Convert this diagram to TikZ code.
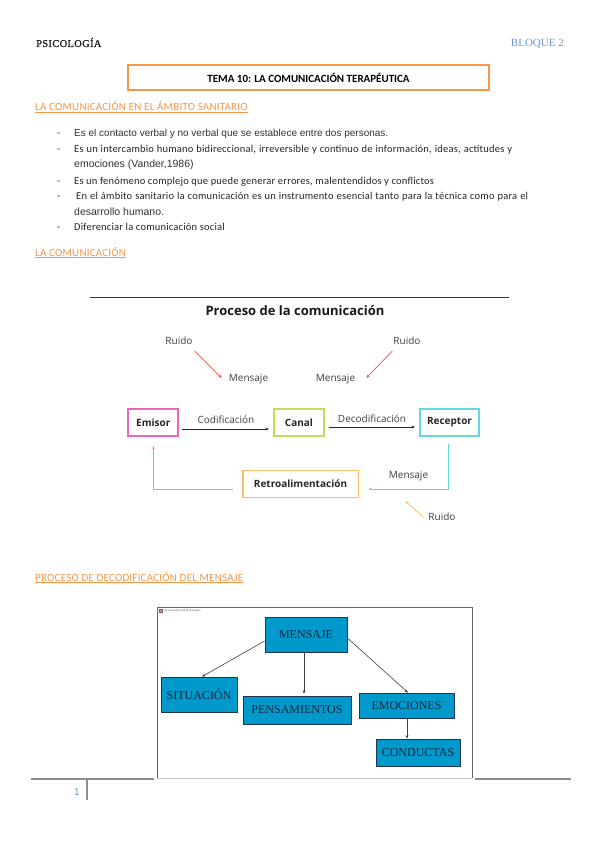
\documentclass[tikz,border=0pt]{standalone}
\usepackage{fontspec}
\setmainfont{Carlito}
\newfontfamily\serifF{Liberation Serif}
\newfontfamily\arialF{Liberation Sans}
\newfontfamily\openF{Open Sans}
\usetikzlibrary{arrows.meta}
\definecolor{orangeH}{HTML}{F79646}
\definecolor{blueB}{HTML}{6B95CF}
\definecolor{pinkD}{HTML}{EE66BB}
\definecolor{greenD}{HTML}{C6DB5E}
\definecolor{cyanD}{HTML}{62D9DF}
\definecolor{orangeD}{HTML}{FBBD69}
\definecolor{redD}{HTML}{E8524F}
\definecolor{ruidoO}{HTML}{FBC677}
\definecolor{txtD}{HTML}{404040}
\definecolor{boxBlue}{HTML}{0099CC}
\definecolor{boxLine}{HTML}{1F3550}
\definecolor{boxTxt}{HTML}{14243C}
\definecolor{footGray}{HTML}{8C8C8C}
\tikzset{
  txt/.style={inner sep=0pt, anchor=base west},
  bul/.style={txt, font=\fontsize{10.5}{12}\selectfont\addfontfeature{LetterSpace=2}, text=black!85},
  bula/.style={txt, font=\arialF\fontsize{10.5}{12}\selectfont, text=black!80},
  head/.style={txt, font=\fontsize{11}{13}\selectfont\addfontfeature{LetterSpace=2}, text=orangeH},
  dtxt/.style={inner sep=0pt, font=\openF\fontsize{10}{12}\selectfont, text=txtD},
  dbox/.style={draw=#1, line width=1.8pt, minimum height=27pt, inner sep=0pt, font=\openF\bfseries\fontsize{10}{12}\selectfont, text=black!85},
  darr/.style={-{Stealth[length=3.5pt,width=2.8pt]}, line width=0.7pt},
  bbox/.style={draw=boxLine, line width=0.8pt, fill=boxBlue, inner sep=0pt, font=\serifF\fontsize{12}{14}\selectfont, text=boxTxt},
  barr/.style={-{Stealth[length=3.5pt,width=3pt]}, line width=0.6pt, draw=black!75}
}
\begin{document}
\begin{tikzpicture}[x=1pt,y=-1pt]
\useasboundingbox (0,0) rectangle (599,848);
\fill[white] (0,0) rectangle (599,848);
% header
\node[txt, font=\serifF\fontsize{10.5}{13}\selectfont\addfontfeature{LetterSpace=3,FakeBold=0.6}, text=black!90] (psico) at (36,47) {PSICOLOGÍA};
\node[txt, font=\serifF\fontsize{11}{13}\selectfont, text=blueB, anchor=base east] (bloque) at (564,47) {BLOQUE 2};
\node[draw=orangeH, line width=2.2pt, minimum width=361pt, minimum height=25pt, inner sep=0pt, font=\bfseries\fontsize{11}{13}\selectfont] (title) at (308.5,77.5) {TEMA 10: LA COMUNICACIÓN TERAPÉUTICA};
% section 1
\node[head] (h1) at (35,111) {\underline{LA COMUNICACIÓN EN EL ÁMBITO SANITARIO}};
\foreach \yy/\nm in {136/d1,153/d2,184/d3,199/d4,230/d5}
  \node[bul] (\nm) at (57,\yy) {-};
\node[bula, font=\arialF\fontsize{10}{12}\selectfont] (b1) at (74,136) {Es el contacto verbal y no verbal que se establece entre dos personas.};
\node[bul] (b2) at (74,153) {\makebox[438pt][s]{Es un intercambio humano bidireccional, irreversible y continuo de información, ideas, actitudes y}};
\node[bula] (b2b) at (74,167) {emociones (Vander,1986)};
\node[bul] (b3) at (74,184) {Es un fenómeno complejo que puede generar errores, malentendidos y conflictos};
\node[bul] (b4) at (76,199) {\makebox[452pt][s]{En el ámbito sanitario la comunicación es un instrumento esencial tanto para la técnica como para el}};
\node[bula] (b4b) at (74,215) {desarrollo humano.};
\node[bul] (b5) at (74,230) {Diferenciar la comunicación social};
\node[head] (h2) at (35,256) {\underline{LA COMUNICACIÓN}};
% diagram 1
\draw[black!80, line width=0.8pt] (90,297) -- (509,297);
\node[inner sep=0pt, font=\openF\bfseries\fontsize{13}{15}\selectfont, text=black!90] (proc) at (295,311) {Proceso de la comunicación};
\node[dtxt] (ruido1) at (179,341) {Ruido};
\node[dtxt] (ruido2) at (407,341) {Ruido};
\node[dtxt] (mens1) at (248.5,379) {Mensaje};
\node[dtxt] (mens2) at (335.5,379) {Mensaje};
\draw[darr, redD] ([xshift=2pt,yshift=-6pt]ruido1.south east) -- ([xshift=-7pt,yshift=1pt]mens1.west);
\draw[darr, redD] ([xshift=-1pt,yshift=-6pt]ruido2.south west) -- ([xshift=11pt,yshift=1pt]mens2.east);
\node[dbox=pinkD, minimum width=50pt] (emisor) at (153.3,422.5) {Emisor};
\node[dbox=greenD, minimum width=50.2pt] (canal) at (299,422.5) {Canal};
\node[dbox=cyanD, minimum width=59.2pt] (receptor) at (449.5,422.5) {Receptor};
\node[dbox=orangeD, minimum width=115.8pt] (retro) at (300.5,484) {Retroalimentación};
\draw[darr, black!85] ([xshift=3pt,yshift=-6.5pt]emisor.east) -- ([xshift=-4pt,yshift=-6.5pt]canal.west);
\draw[darr, black!85] ([xshift=4pt,yshift=-4.5pt]canal.east) -- ([xshift=-4pt,yshift=-4.5pt]receptor.west);
\node[dtxt] (cod) at (226,419.5) {Codificación};
\node[dtxt] (decod) at (372,419) {Decodificación};
\draw[darr, cyanD, line width=0.9pt] ([xshift=-1.5pt,yshift=-7pt]receptor.south) |- ([xshift=9pt,yshift=-5pt]retro.east);
\draw[darr, pinkD!80, line width=0.9pt] ([xshift=-9pt,yshift=-5pt]retro.west) -| ([xshift=0pt,yshift=-9pt]emisor.south);
\node[dtxt] (mens3) at (408.5,476) {Mensaje};
\node[dtxt] (ruido3) at (442,517) {Ruido};
\draw[darr, ruidoO, line width=0.9pt] ([xshift=-5pt,yshift=0pt]ruido3.west) -- ([xshift=-23pt,yshift=16pt]ruido3.west);
% section 3
\node[head] (h3) at (35,581) {\underline{PROCESO DE DECODIFICACIÓN DEL MENSAJE}};
\draw[black!60, line width=0.5pt] (157,778) -- (157,607) -- (472,607) -- (472,778);
\draw[black!20, line width=1pt] (157,778) -- (472,778);
\draw[black!60, line width=0.4pt, fill=white] (159.5,609.5) rectangle (162.5,612.5);
\draw[red, line width=0.3pt] (160,610) -- (162,612) (162,610) -- (160,612);
\node[anchor=west, inner sep=0pt, font=\arialF\fontsize{2.6}{3}\selectfont, text=black!70] (noimg) at (164,611) {No se puede mostrar la imagen.};
\node[bbox, minimum width=82pt, minimum height=35pt] (mensaje) at (306,634.5) {MENSAJE};
\node[bbox, minimum width=76pt, minimum height=35pt] (situacion) at (199,694.5) {SITUACIÓN};
\node[bbox, minimum width=108pt, minimum height=28pt] (pensam) at (297,710) {PENSAMIENTOS};
\node[bbox, minimum width=95pt, minimum height=25pt] (emoc) at (406.5,705.5) {EMOCIONES};
\node[bbox, minimum width=84pt, minimum height=27pt] (conduc) at (418,752.5) {CONDUCTAS};
\draw[barr] ([yshift=-6.5pt]mensaje.west) -- ([xshift=3pt]situacion.north);
\draw[barr] ([xshift=-2pt]mensaje.south) -- ([xshift=7pt,yshift=2pt]pensam.north);
\draw[barr] ([yshift=-3.5pt]mensaje.east) -- ([xshift=1.5pt]emoc.north);
\draw[barr] ([xshift=0.5pt]emoc.south) -- ([xshift=-11pt]conduc.north);
% footer
\draw[footGray, line width=1.3pt] (31,779) -- (154,779);
\draw[footGray, line width=1.3pt] (475,779) -- (571,779);
\draw[footGray, line width=1.3pt] (87,779) -- (87,800);
\node[inner sep=0pt, font=\arialF\fontsize{10}{12}\selectfont, text=blueB] (pnum) at (77,792) {1};
\end{tikzpicture}
\end{document}
